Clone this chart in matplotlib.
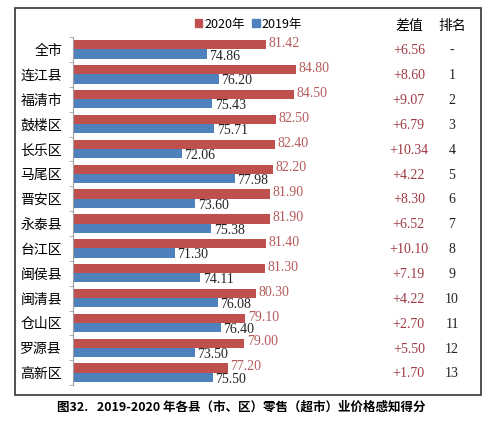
import matplotlib.pyplot as plt
from matplotlib.patches import Rectangle, Patch
import numpy as np

plt.rcParams['font.family'] = ['Noto Sans CJK SC', 'DejaVu Sans']

# 数据
areas = ['全市', '连江县', '福清市', '鼓楼区', '长乐区', '马尾区', '晋安区',
         '永泰县', '台江区', '闽侯县', '闽清县', '仓山区', '罗源县', '高新区']
score_2020 = [81.42, 84.80, 84.50, 82.50, 82.40, 82.20, 81.90,
              81.90, 81.40, 81.30, 80.30, 79.10, 79.00, 77.20]
score_2019 = [74.86, 76.20, 75.43, 75.71, 72.06, 77.98, 73.60,
              75.38, 71.30, 74.11, 76.08, 76.40, 73.50, 75.50]
diffs = ['+6.56', '+8.60', '+9.07', '+6.79', '+10.34', '+4.22', '+8.30',
         '+6.52', '+10.10', '+7.19', '+4.22', '+2.70', '+5.50', '+1.70']
ranks = ['-', '1', '2', '3', '4', '5', '6', '7', '8', '9', '10', '11', '12', '13']

red = '#C0504D'
blue = '#4F81BD'
num_font = ['Liberation Serif', 'DejaVu Serif']

fig = plt.figure(figsize=(4.97, 4.26), dpi=100)
ax = fig.add_axes([0.147, 0.096, 0.815, 0.817])

y = np.arange(len(areas))
h = 0.37
ax.barh(y - h / 2, score_2020, height=h, color=red, left=0)
ax.barh(y + h / 2, score_2019, height=h, color=blue, left=0)

for i in range(len(areas)):
    ax.text(score_2020[i] + 0.3, y[i] - h / 2 - 0.05, f'{score_2020[i]:.2f}',
            color='#B65A5A', fontsize=10, va='center', ha='left', family=num_font)
    ax.text(score_2019[i] + 0.3, y[i] + h / 2 + 0.08, f'{score_2019[i]:.2f}',
            color='#222222', fontsize=10, va='center', ha='left', family=num_font)
    ax.text(97.3, y[i] + 0.05, diffs[i], color='#9E3A44', fontsize=10,
            va='center', ha='center', family=num_font)
    ax.text(102.1, y[i] + 0.05, ranks[i], color='#222222', fontsize=10,
            va='center', ha='center', family=num_font)

ax.set_xlim(60, 105)
ax.set_ylim(len(areas) - 0.5, -0.5)
ax.set_yticks(y)
ax.set_yticklabels(areas, fontsize=10)
ax.set_yticks(np.arange(len(areas) + 1) - 0.5, minor=True)
ax.tick_params(axis='y', which='major', length=0, pad=8)
ax.tick_params(axis='y', which='minor', length=3, color='#A0A0A0')
ax.set_xticks([])
for s in ['top', 'right', 'bottom']:
    ax.spines[s].set_visible(False)
ax.spines['left'].set_color('#A0A0A0')

# 表头
ax.text(97.3, -0.95, '差值', fontsize=10, ha='center', va='center')
ax.text(102.1, -0.95, '排名', fontsize=10, ha='center', va='center')

# 图例
handles = [Patch(color=red, label='2020年'), Patch(color=blue, label='2019年')]
fig.legend(handles=handles, loc='center', bbox_to_anchor=(0.5, 0.943), ncol=2,
           frameon=False, fontsize=9, handlelength=0.6, handleheight=0.6,
           handletextpad=0.15, columnspacing=0.6)

# 外框
fig.patches.append(Rectangle((0.030, 0.073), 0.938, 0.908, transform=fig.transFigure,
                             fill=False, edgecolor='#333333', linewidth=1.2))

fig.text(0.485, 0.043, '图32.   2019-2020 年各县（市、区）零售（超市）业价格感知得分',
         ha='center', va='center', fontsize=9, fontweight='bold')

plt.savefig('out.png', dpi=100)
